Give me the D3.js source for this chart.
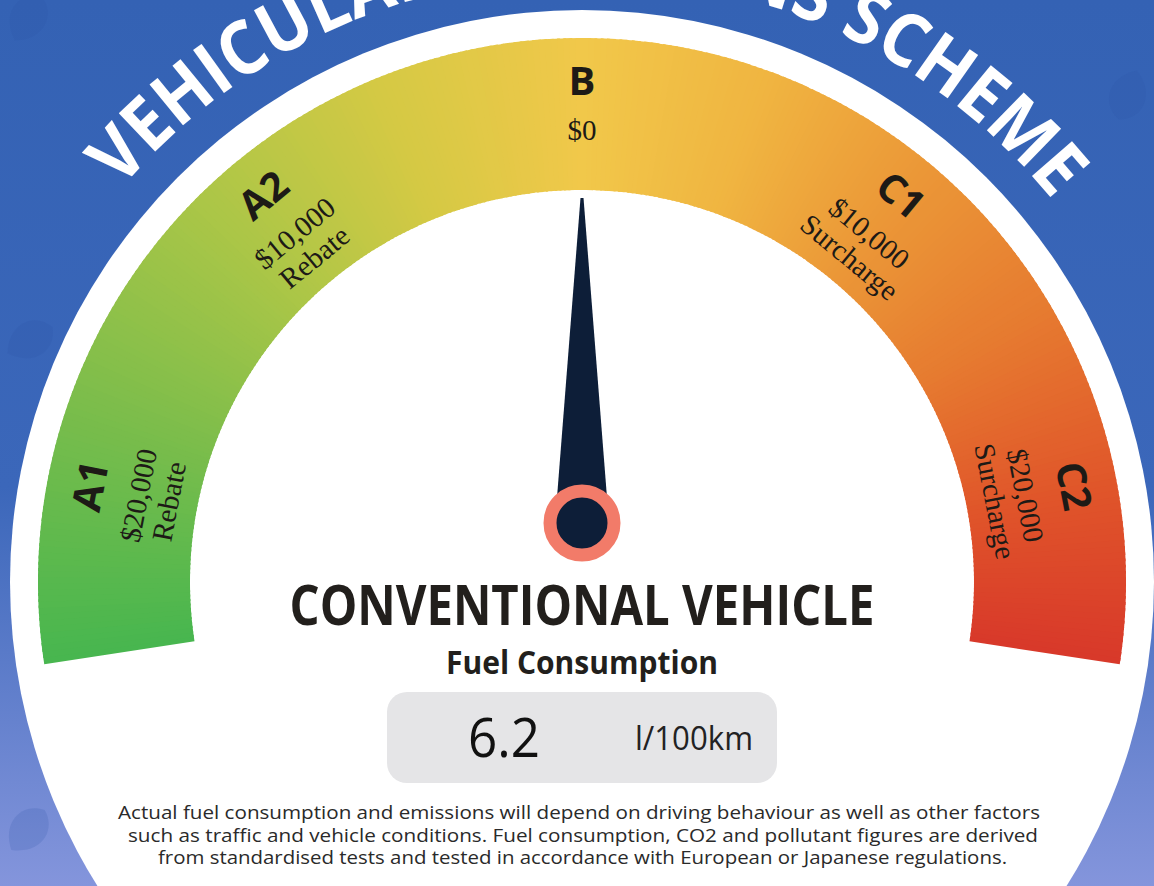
<!DOCTYPE html>
<html>
<head>
<meta charset="utf-8">
<script src="https://cdn.jsdelivr.net/npm/d3@7"></script>
<style>
  body { margin: 0; background: #3563b4; }
  svg { display: block; }
</style>
</head>
<body>
<svg id="chart"></svg>
<script>
// bands of the scheme, left to right
var bands = ["A1", "A2", "B", "C1", "C2"];
var amounts = ["$20,000", "$10,000", "$0", "$10,000", "$20,000"];
var kinds = ["Rebate", "Rebate", "", "Surcharge", "Surcharge"];

// what the needle shows
var needleBand = "B";
var vehicleType = "CONVENTIONAL VEHICLE";
var measureName = "Fuel Consumption";
var fuelValue = "6.2";
var fuelUnit = "l/100km";

var title = "VEHICULAR EMISSIONS SCHEME";
var footnote = [
  "Actual fuel consumption and emissions will depend on driving behaviour as well as other factors",
  "such as traffic and vehicle conditions. Fuel consumption, CO2 and pollutant figures are derived",
  "from standardised tests and tested in accordance with European or Japanese regulations."
];

// gauge colour stops (degrees -> colour)
var stopAngles = [-98.7, -70, -45, -22, 0, 20, 40, 60, 80, 98.7];
var stopColors = ["#47b64f", "#7cbd4b", "#abc647", "#d5c944", "#f1c84a",
                  "#f0b541", "#eb9737", "#e67a30", "#e0552a", "#d8392a"];

var width = 1154, height = 886;
var cx = 582, cy = 582;

var svg = d3.select("#chart")
  .attr("width", width)
  .attr("height", height);

var defs = svg.append("defs");
var bg = defs.append("linearGradient")
  .attr("id", "bg")
  .attr("x1", 0).attr("y1", 0).attr("x2", 0).attr("y2", 1);
bg.append("stop").attr("offset", 0).attr("stop-color", "#3462b4");
bg.append("stop").attr("offset", 0.55).attr("stop-color", "#3b67ba");
bg.append("stop").attr("offset", 1).attr("stop-color", "#8495dc");

svg.append("rect")
  .attr("width", width)
  .attr("height", height)
  .attr("fill", "url(#bg)");

// faint leaves in the background
var leaves = [[28, 18, 30], [1128, 95, 200], [30, 340, 60], [28, 830, 40]];
svg.selectAll(".leaf")
  .data(leaves)
  .enter()
  .append("path")
  .attr("class", "leaf")
  .attr("d", "M0,-26 C22,-18 26,10 0,26 C-26,10 -22,-18 0,-26 Z")
  .attr("transform", d => "translate(" + d[0] + "," + d[1] + ") rotate(" + d[2] + ")")
  .attr("fill", "#2d55a6")
  .attr("opacity", 0.18);

// white disc
svg.append("circle")
  .attr("cx", cx)
  .attr("cy", cy)
  .attr("r", 572)
  .attr("fill", "#ffffff");

// curved title
var titleR = 606;
defs.append("path")
  .attr("id", "titleArc")
  .attr("d", "M" + (cx - titleR) + "," + cy + " A" + titleR + "," + titleR + " 0 0 1 " + (cx + titleR) + "," + cy);

svg.append("text")
  .attr("font-family", "'Open Sans', 'DejaVu Sans', sans-serif")
  .attr("font-weight", 700)
  .attr("font-size", 74)
  .attr("fill", "#ffffff")
  .append("textPath")
  .attr("href", "#titleArc")
  .attr("startOffset", "50.4%")
  .attr("text-anchor", "middle")
  .attr("textLength", 1063)
  .attr("lengthAdjust", "spacingAndGlyphs")
  .text(title);

// angle scale over the bands (degrees, 0 = straight up)
var angle = d3.scaleBand()
  .domain(bands)
  .range([-98.7, 98.7]);

var color = d3.scaleLinear()
  .domain(stopAngles)
  .range(stopColors)
  .interpolate(d3.interpolateRgb);

var rad = Math.PI / 180;
var arc = d3.arc()
  .innerRadius(392)
  .outerRadius(544);

// gauge band, drawn as thin slices so the colour follows the angle
var slices = d3.range(0, 300);
var a0 = angle.range()[0], a1 = angle.range()[1];
var step = (a1 - a0) / slices.length;

var gauge = svg.append("g")
  .attr("transform", "translate(" + cx + "," + cy + ")");

gauge.selectAll("path")
  .data(slices)
  .enter()
  .append("path")
  .attr("d", i => arc({
    startAngle: (a0 + i * step) * rad,
    endAngle: (a0 + (i + 1) * step + (i < slices.length - 1 ? 0.3 : 0)) * rad
  }))
  .attr("fill", i => color(a0 + (i + 0.5) * step));

// band labels
var labels = gauge.selectAll(".label")
  .data(bands)
  .enter()
  .append("g")
  .attr("class", "label")
  .attr("transform", d => "rotate(" + (angle(d) + angle.bandwidth() / 2) + ")");

labels.append("text")
  .attr("y", -487)
  .attr("text-anchor", "middle")
  .attr("font-family", "'Open Sans', sans-serif")
  .attr("font-weight", 700)
  .attr("font-size", 40)
  .attr("fill", "#1d1a16")
  .text(d => d);

labels.append("text")
  .attr("y", -442)
  .attr("text-anchor", "middle")
  .attr("font-family", "'Liberation Serif', serif")
  .attr("font-size", 29)
  .attr("fill", "#1d1a16")
  .text((d, i) => amounts[i]);

labels.filter((d, i) => kinds[i] !== "")
  .append("text")
  .attr("y", -411)
  .attr("text-anchor", "middle")
  .attr("font-family", "'Liberation Serif', serif")
  .attr("font-size", 29)
  .attr("fill", "#1d1a16")
  .text(d => kinds[bands.indexOf(d)]);

// needle
var pivotX = 582, pivotY = 523;
var needleLen = 325;
var needleAngle = angle(needleBand) + angle.bandwidth() / 2;

var needle = svg.append("g")
  .attr("transform", "translate(" + pivotX + "," + pivotY + ") rotate(" + needleAngle + ")");

needle.append("path")
  .attr("d", d3.line()([[-1.5, -needleLen], [1.5, -needleLen], [27, 0], [-27, 0]]) + "Z")
  .attr("fill", "#0d1e38");

needle.append("circle")
  .attr("r", 32)
  .attr("fill", "#0d1e38")
  .attr("stroke", "#f27b69")
  .attr("stroke-width", 13);

// vehicle texts
svg.append("text")
  .attr("x", 582)
  .attr("y", 625)
  .attr("text-anchor", "middle")
  .attr("font-family", "'Open Sans', sans-serif")
  .attr("font-weight", 700)
  .attr("font-size", 56)
  .attr("fill", "#221f1c")
  .attr("textLength", 585)
  .attr("lengthAdjust", "spacingAndGlyphs")
  .text(vehicleType);

svg.append("text")
  .attr("x", 582)
  .attr("y", 674)
  .attr("text-anchor", "middle")
  .attr("font-family", "'Open Sans', sans-serif")
  .attr("font-weight", 700)
  .attr("font-size", 32)
  .attr("fill", "#221f1c")
  .attr("textLength", 272)
  .attr("lengthAdjust", "spacingAndGlyphs")
  .text(measureName);

svg.append("rect")
  .attr("x", 387)
  .attr("y", 692)
  .attr("width", 390)
  .attr("height", 91)
  .attr("rx", 20)
  .attr("fill", "#e5e5e7");

svg.append("text")
  .attr("x", 504)
  .attr("y", 757)
  .attr("text-anchor", "middle")
  .attr("font-family", "'Open Sans', sans-serif")
  .attr("font-size", 54)
  .attr("fill", "#111111")
  .attr("textLength", 72)
  .attr("lengthAdjust", "spacingAndGlyphs")
  .text(fuelValue);

svg.append("text")
  .attr("x", 694)
  .attr("y", 750)
  .attr("text-anchor", "middle")
  .attr("font-family", "'Open Sans', sans-serif")
  .attr("font-size", 33)
  .attr("fill", "#222222")
  .attr("textLength", 118)
  .attr("lengthAdjust", "spacingAndGlyphs")
  .text(fuelUnit);

// footnote
var noteX = [[118, 1040], [128, 1038], [158, 1007]];
svg.selectAll(".note")
  .data(footnote)
  .enter()
  .append("text")
  .attr("class", "note")
  .attr("x", (d, i) => (noteX[i][0] + noteX[i][1]) / 2)
  .attr("y", (d, i) => 819 + i * 22.5)
  .attr("text-anchor", "middle")
  .attr("font-family", "'Open Sans', sans-serif")
  .attr("font-size", 18.5)
  .attr("fill", "#2a2a2a")
  .attr("textLength", (d, i) => noteX[i][1] - noteX[i][0])
  .attr("lengthAdjust", "spacingAndGlyphs")
  .text(d => d);
</script>
</body>
</html>
